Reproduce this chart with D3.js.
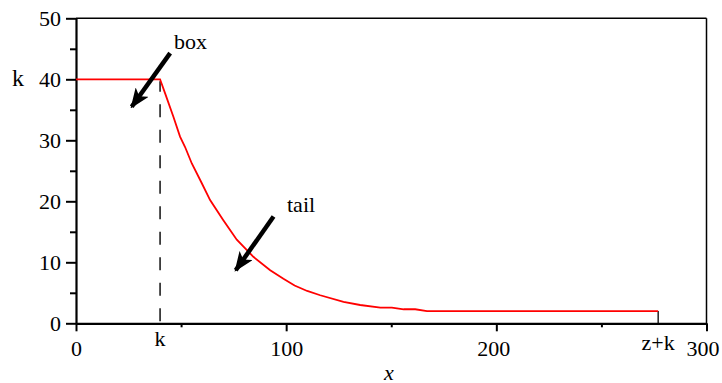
<!DOCTYPE html>
<html lang="en">
<head>
<meta charset="UTF-8">
<title>Box and tail</title>
<script src="https://d3js.org/d3.v7.min.js"></script>
<style>
  body { margin: 0; background: #fff; }
  text { font-family: "Liberation Serif", "Times New Roman", serif; }
</style>
</head>
<body>
<script>
// curve: flat box at k = 40 up to x = k, then the tail
const curveX = [0, 40, 42.4, 46.3, 49.5, 51.9, 55.1, 59.8, 63.8, 70.1, 76.5, 84.4, 92.4, 98.7,
  104, 110, 116.2, 127.3, 135.2, 144.8, 150.3, 155.9, 161.4, 167, 277];
const curveY = [40, 40, 37.7, 33.9, 30.6, 28.9, 26.2, 23.0, 20.2, 16.9, 13.7, 10.9, 8.7, 7.3,
  6.2, 5.3, 4.6, 3.5, 3.0, 2.56, 2.56, 2.3, 2.3, 2.0, 2.0];

const xMajor = [0, 100, 200, 300];
const xMinor = [50, 150, 250];
const yMajor = [0, 10, 20, 30, 40, 50];
const yMinor = [5, 15, 25, 35, 45];

const kValue = 40;
const zkValue = 277;

const width = 722, height = 383;
const plotLeft = 76, plotRight = 706.5, plotTop = 18.3, plotBottom = 323.3;
const serif = '"Liberation Serif", "Times New Roman", serif';

const x = d3.scaleLinear().domain([0, 300]).range([plotLeft, plotRight]);
const y = d3.scaleLinear().domain([0, 50]).range([plotBottom, plotTop]);

const svg = d3.select("body").append("svg")
  .attr("width", width)
  .attr("height", height);

svg.append("defs").append("marker")
  .attr("id", "head")
  .attr("markerUnits", "userSpaceOnUse")
  .attr("viewBox", "0 0 20 16")
  .attr("refX", 18).attr("refY", 8)
  .attr("markerWidth", 20).attr("markerHeight", 16)
  .attr("orient", "auto")
  .append("path")
  .attr("d", "M0,0 L20,8 L0,16 L5,8 Z")
  .attr("fill", "#000");

// frame: top and right
svg.append("line")
  .attr("x1", plotLeft).attr("x2", plotRight).attr("y1", plotTop).attr("y2", plotTop)
  .attr("stroke", "#000").attr("stroke-width", 1.5);
svg.append("line")
  .attr("x1", plotRight).attr("x2", plotRight).attr("y1", plotTop).attr("y2", plotBottom)
  .attr("stroke", "#000").attr("stroke-width", 1.5);

// x axis
const xAxis = svg.append("g").attr("transform", `translate(0,${plotBottom})`);
xAxis.call(d3.axisBottom(x).tickValues(xMajor).tickSize(8).tickSizeOuter(0).tickFormat(d3.format("d")));
svg.append("g").attr("transform", `translate(0,${plotBottom})`)
  .call(d3.axisBottom(x).tickValues(xMinor).tickSize(4).tickSizeOuter(0).tickFormat(""))
  .select(".domain").remove();

// y axis
const yAxis = svg.append("g").attr("transform", `translate(${plotLeft},0)`);
yAxis.call(d3.axisLeft(y).tickValues(yMajor).tickSize(10).tickSizeOuter(0).tickFormat(d3.format("d")));
svg.append("g").attr("transform", `translate(${plotLeft},0)`)
  .call(d3.axisLeft(y).tickValues(yMinor).tickSize(6).tickSizeOuter(0).tickFormat(""))
  .select(".domain").remove();

svg.selectAll("g").attr("font-family", null);
svg.selectAll(".domain").attr("stroke-width", 2.2);
svg.selectAll(".tick line").attr("stroke-width", 2);
svg.selectAll(".tick text")
  .style("font-family", serif)
  .attr("font-size", 22)
  .attr("fill", "#000");
xAxis.selectAll(".tick text").attr("dy", "1.0em");
xAxis.selectAll(".tick").filter(d => d === 300).select("text").attr("x", -4);
xAxis.selectAll(".tick").filter(d => d === 200).select("text").attr("x", -3);
yAxis.selectAll(".tick text").attr("x", -15);

// dashed line at x = k
svg.append("line")
  .attr("x1", x(kValue)).attr("x2", x(kValue))
  .attr("y1", plotBottom - 2).attr("y2", y(kValue) + 2)
  .attr("stroke", "#000").attr("stroke-width", 1.4)
  .attr("stroke-dasharray", "13,12.5");

// tick at z+k
svg.append("line")
  .attr("x1", x(zkValue)).attr("x2", x(zkValue))
  .attr("y1", y(2)).attr("y2", plotBottom)
  .attr("stroke", "#000").attr("stroke-width", 1.3);

// curve
const pts = curveX.map((d, i) => [d, curveY[i]]);
svg.append("path")
  .datum(pts)
  .attr("fill", "none")
  .attr("stroke", "#ff0000")
  .attr("stroke-width", 1.8)
  .attr("d", d3.line().x(d => x(d[0])).y(d => y(d[1])));

// extra labels
const labelFont = 22;
svg.append("text").attr("x", x(kValue)).attr("y", plotBottom + 23)
  .attr("text-anchor", "middle").attr("font-size", labelFont).text("k");
svg.append("text").attr("x", x(zkValue)).attr("y", plotBottom + 27)
  .attr("text-anchor", "middle").attr("font-size", labelFont).text("z+k");
svg.append("text").attr("x", 18).attr("y", y(kValue) + 7)
  .attr("text-anchor", "middle").attr("font-size", 24).text("k");
svg.append("text").attr("x", 389).attr("y", 379.5)
  .attr("text-anchor", "middle").attr("font-size", labelFont)
  .attr("font-style", "italic").text("x");

// annotations
const notes = [
  { label: "box", from: [44.8, 44.3], to: [26.5, 35.5], tx: 174, ty: 49 },
  { label: "tail", from: [94, 17.5], to: [76, 8.7], tx: 287, ty: 212 }
];
notes.forEach(n => {
  svg.append("line")
    .attr("x1", x(n.from[0])).attr("y1", y(n.from[1]))
    .attr("x2", x(n.to[0])).attr("y2", y(n.to[1]))
    .attr("stroke", "#000").attr("stroke-width", 4.5)
    .attr("marker-end", "url(#head)");
  svg.append("text").attr("x", n.tx).attr("y", n.ty)
    .attr("font-size", labelFont).text(n.label);
});
</script>
</body>
</html>
